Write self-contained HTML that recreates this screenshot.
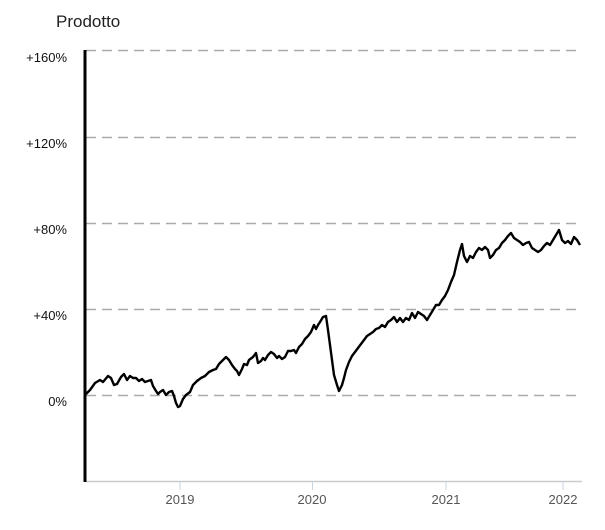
<!DOCTYPE html>
<html><head><meta charset="utf-8"><style>
html,body{margin:0;padding:0;background:#fff;width:605px;height:530px;overflow:hidden}
svg{display:block}
</style></head><body>
<svg width="605" height="530" xmlns="http://www.w3.org/2000/svg" font-family="'Liberation Sans', sans-serif">
<text x="56" y="27" font-size="17" fill="#222">Prodotto</text>
<g stroke="#aaa" stroke-width="1.5" stroke-dasharray="10,6">
<line x1="86" y1="50.5" x2="582" y2="50.5"/>
<line x1="86" y1="137.5" x2="582" y2="137.5"/>
<line x1="86" y1="223.5" x2="582" y2="223.5"/>
<line x1="86" y1="309.5" x2="582" y2="309.5"/>
<line x1="86" y1="395.5" x2="582" y2="395.5"/>
</g>
<line x1="86" y1="481.5" x2="582" y2="481.5" stroke="#ccc" stroke-width="1.5"/>
<g stroke="#c8d4e8" stroke-width="1">
<line x1="180" y1="482" x2="180" y2="490"/><line x1="312.5" y1="482" x2="312.5" y2="490"/>
<line x1="446" y1="482" x2="446" y2="490"/><line x1="563" y1="482" x2="563" y2="490"/>
</g>
<line x1="85" y1="50" x2="85" y2="482" stroke="#000" stroke-width="3"/>
<g font-size="13" fill="#111" text-anchor="end">
<text x="67" y="62">+160%</text><text x="67" y="148">+120%</text>
<text x="67" y="234">+80%</text><text x="67" y="320">+40%</text><text x="67" y="406">0%</text>
</g>
<g font-size="13" fill="#555" text-anchor="middle">
<text x="180" y="504">2019</text><text x="312" y="504">2020</text>
<text x="446" y="504">2021</text><text x="563" y="504">2022</text>
</g>
<polyline fill="none" stroke="#000" stroke-width="2.4" stroke-linejoin="round" points="85,395 90,390 95,383 100,380 103,382 108,376 111,378 114,385 117,384 121,377 124,374 127,380 130,376 133,378 136,378 139,381 142,379 145,382 148,381 151,380 153,386 156,391 158,394 160,392 163,390 166,395 169,392 172,391 174,396 176,403 178,407 180,406 183,399 186,395 190,392 193,385 197,381 201,378 205,376 209,372 213,370 216,369 219,364 223,360 226,357 229,360 232,365 235,369 237,371 239,375 242,369 244,364 247,365 249,360 253,357 256,353 258,363 261,361 263,358 265,360 268,355 271,352 274,354 277,358 279,356 282,359 285,357 288,351 291,351 294,350 296,353 299,347 302,344 305,339 308,336 311,332 314,325 316,329 318,325 320,322 323,317 326,316 328,330 330,345 332,360 334,375 337,385 339,391 342,385 344,378 346,370 349,362 352,356 355,352 358,348 361,344 364,340 367,336 370,334 373,332 376,329 379,328 382,325 385,327 388,322 391,320 394,317 397,322 400,318 403,322 406,318 409,320 412,313 415,318 418,312 421,314 424,316 427,320 430,315 433,310 436,305 439,305 442,300 445,296 448,290 451,282 454,275 457,262 460,250 462,244 464,256 467,262 470,256 473,258 476,252 479,248 482,250 485,247 488,250 490,258 493,255 496,250 499,248 502,243 505,240 508,236 511,233 514,238 517,240 520,242 523,245 526,243 529,242 532,248 535,250 538,252 541,250 544,246 547,243 550,245 553,240 556,235 559,230 562,240 565,243 568,241 571,244 574,237 577,240 580,245"/>
</svg>
</body></html>
